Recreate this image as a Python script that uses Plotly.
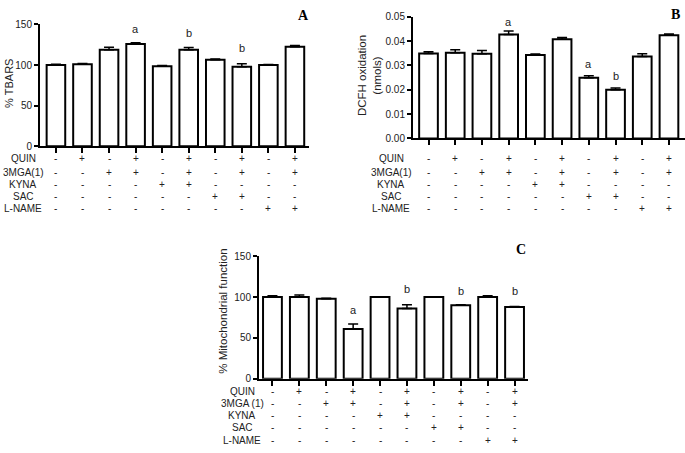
import plotly.graph_objects as go

W, H = 685, 453


def px(x):
    return x / W


def py(y):
    return 1 - y / H


groups = list(range(10))
rows_ab = ["QUIN", "3MGA(1)", "KYNA", "SAC", "L-NAME"]
rows_c = ["QUIN", "3MGA (1)", "KYNA", "SAC", "L-NAME"]
signs = [
    ["-", "+", "-", "+", "-", "+", "-", "+", "-", "+"],
    ["-", "-", "+", "+", "-", "+", "-", "+", "-", "+"],
    ["-", "-", "-", "-", "+", "+", "-", "-", "-", "-"],
    ["-", "-", "-", "-", "-", "-", "+", "+", "-", "-"],
    ["-", "-", "-", "-", "-", "-", "-", "-", "+", "+"],
]

tbars = [100, 101, 119, 126, 98.5, 119, 106.5, 98, 100, 122.5]
tbars_err = [1, 1, 3, 1.5, 1, 2.5, 1, 3.5, 0.8, 1.5]
tbars_marks = {3: "a", 5: "b", 7: "b"}
tbars_mark_y = {3: 145, 5: 140, 7: 121}

dcfh = [0.0349, 0.0352, 0.0348, 0.0427, 0.0343, 0.0407, 0.0249, 0.0200, 0.0336, 0.0424]
dcfh_err = [0.0007, 0.0012, 0.0013, 0.0014, 0.0004, 0.0008, 0.0008, 0.0007, 0.0012, 0.0005]
dcfh_marks = {3: "a", 6: "a", 7: "b"}
dcfh_mark_y = {3: 0.0477, 6: 0.0304, 7: 0.0257}

mito = [100, 100, 98, 61, 100, 86, 100, 90, 100, 88]
mito_err = [1.5, 2.4, 0.5, 6, 0.3, 4.5, 0.3, 0.6, 1.6, 0.5]
mito_marks = {3: "a", 5: "b", 7: "b", 9: "b"}
mito_mark_y = {3: 84, 5: 109.5, 7: 107.5, 9: 107}

FONT = "Liberation Sans, Arial, sans-serif"
SERIF = "Liberation Serif, Times New Roman, serif"
TXT = "#222222"

panels = [
    dict(vals=tbars, err=tbars_err, marks=tbars_marks, my=tbars_mark_y,
         xd=[40, 309], yd=[144, 19], xr=[-0.6, 9.53], yr=[0, 150],
         tv=[0, 50, 100, 150], tf="", rows=rows_ab,
         row_y=[157, 171, 183, 196, 208], row_x=23,
         title="% TBARS", tsize=11, tx=9, ty=80, letter="A", lx=303, ly=10),
    dict(vals=dcfh, err=dcfh_err, marks=dcfh_marks, my=dcfh_mark_y,
         xd=[413, 685], yd=[136, 11], xr=[-0.58, 9.6], yr=[0, 0.05],
         tv=[0, 0.01, 0.02, 0.03, 0.04, 0.05], tf=".2f", rows=rows_ab,
         row_y=[157, 171, 183, 196, 208], row_x=391,
         title="DCFH oxidation<br>(nmols)", tsize=11.5, tx=369, ty=72,
         letter="B", lx=675, ly=9),
    dict(vals=mito, err=mito_err, marks=mito_marks, my=mito_mark_y,
         xd=[259, 528], yd=[383, 257], xr=[-0.5, 9.5], yr=[0, 150],
         tv=[0, 50, 100, 150], tf="", rows=rows_c,
         row_y=[396, 408, 421, 433, 446], row_x=242,
         title="% Mitochondrial function", tsize=11.5, tx=223, ty=314,
         letter="C", lx=521, ly=250),
]

fig = go.Figure()
annotations = []
layout = {}
for k, p in enumerate(panels):
    sfx = "" if k == 0 else str(k + 1)
    xa, ya = "x" + sfx, "y" + sfx
    fig.add_trace(go.Bar(
        x=groups, y=p["vals"], width=0.7,
        marker=dict(color="white", line=dict(color="black", width=2)),
        error_y=dict(type="data", symmetric=False, array=p["err"],
                     arrayminus=[0] * len(p["err"]),
                     color="black", thickness=1.5, width=5),
        xaxis=xa, yaxis=ya, showlegend=False, hoverinfo="skip",
    ))
    layout["xaxis" + sfx] = dict(
        domain=[px(p["xd"][0]), min(1.0, px(p["xd"][1]))], range=p["xr"],
        anchor=ya, showgrid=False, zeroline=False, showline=True,
        linecolor="black", linewidth=2, ticks="outside", ticklen=5,
        tickwidth=1.5, tickcolor="black", tickvals=groups,
        showticklabels=False, fixedrange=True,
    )
    layout["yaxis" + sfx] = dict(
        domain=[py(p["yd"][0]), py(p["yd"][1])], range=p["yr"],
        anchor=xa, showgrid=False, zeroline=False, showline=True,
        linecolor="black", linewidth=2, ticks="outside", ticklen=4,
        tickwidth=1.5, tickcolor="black", tickvals=p["tv"],
        tickformat=p["tf"], tickfont=dict(family=FONT, size=10, color=TXT),
        fixedrange=True,
    )
    for i, m in p["marks"].items():
        annotations.append(dict(x=i, y=p["my"][i], xref=xa, yref=ya, text=m,
                                showarrow=False, font=dict(family=FONT, size=11, color=TXT)))
    for r, (lab, yy) in enumerate(zip(p["rows"], p["row_y"])):
        annotations.append(dict(x=px(p["row_x"]), y=py(yy), xref="paper", yref="paper",
                                text=lab, showarrow=False, xanchor="center", yanchor="middle",
                                font=dict(family=FONT, size=10, color=TXT)))
        for i in groups:
            annotations.append(dict(x=i, y=py(yy), xref=xa, yref="paper",
                                    text=signs[r][i], showarrow=False, yanchor="middle",
                                    font=dict(family=FONT, size=10, color=TXT)))
    annotations.append(dict(x=px(p["tx"]), y=py(p["ty"]), xref="paper", yref="paper",
                            text=p["title"], textangle=-90, showarrow=False,
                            xanchor="center", yanchor="middle",
                            font=dict(family=FONT, size=p["tsize"], color=TXT)))
    annotations.append(dict(x=px(p["lx"]), y=py(p["ly"]), xref="paper", yref="paper",
                            text="<b>" + p["letter"] + "</b>", showarrow=False,
                            xanchor="center", yanchor="middle",
                            font=dict(family=SERIF, size=14, color="black")))

fig.update_layout(
    width=W, height=H, margin=dict(l=0, r=0, t=0, b=0),
    paper_bgcolor="white", plot_bgcolor="white",
    annotations=annotations, **layout,
)
fig.write_html(
    "out.html",
    config={"displayModeBar": False},
    post_script="document.body.style.margin='0px';document.body.style.overflow='hidden';",
)
